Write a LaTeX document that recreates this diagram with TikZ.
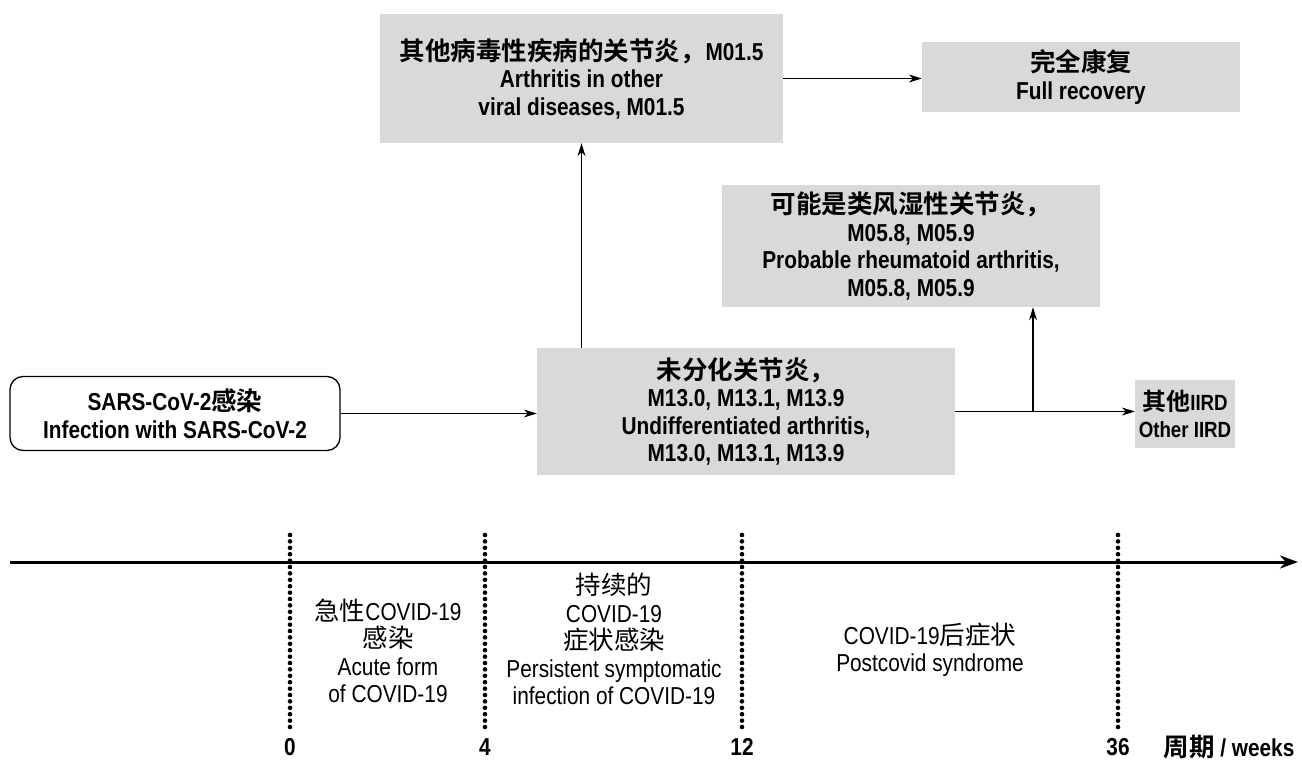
\documentclass[tikz,border=0pt]{standalone}
\usepackage{fontspec}
\setmainfont{Liberation Sans}[FakeStretch=0.85]
\newfontfamily\cjk{Noto Sans CJK SC}[BoldFont={* Bold}]
\newcommand{\zhtxt}[1]{{\fontsize{25.5}{28}\selectfont\cjk #1}}
\usetikzlibrary{arrows.meta}
\definecolor{boxgray}{HTML}{D9D9D9}
\begin{document}
\begin{tikzpicture}[x=1pt,y=-1pt,
  gbox/.style={fill=boxgray, align=center, inner sep=0pt, font=\bfseries\fontsize{24.5}{27.5}\selectfont},
  rbox/.style={draw=black, line width=1.3pt, rounded corners=13pt, align=center, inner sep=0pt, font=\bfseries\fontsize{24.5}{28}\selectfont},
  conn/.style={line width=1.3pt, -{Stealth[length=13pt,width=8pt]}},
  axis/.style={line width=3pt, -{Stealth[length=18pt,width=13pt]}},
  dots/.style={line width=4.6pt, line cap=round, dash pattern=on 0pt off 6.4pt},
  wk/.style={font=\bfseries\fontsize{24.5}{28}\selectfont},
  per/.style={align=center, font=\fontsize{24.5}{27.5}\selectfont}]
\useasboundingbox (0,0) rectangle (1302,762);

% boxes
\node[rbox, minimum width=330pt, minimum height=74pt] (sars) at (175,413.5)
  {SARS-CoV-2\zhtxt{感染}\\Infection with SARS-CoV-2};
\node[gbox, minimum width=418pt, minimum height=127pt] (ua) at (746,411.5)
  {\zhtxt{未分化关节炎，}\\M13.0, M13.1, M13.9\\Undifferentiated arthritis,\\M13.0, M13.1, M13.9};
\node[gbox, minimum width=403pt, minimum height=129pt] (ao) at (581.5,78.5)
  {\zhtxt{其他病毒性疾病的关节炎，}M01.5\\Arthritis in other\\viral diseases, M01.5};
\node[gbox, minimum width=318pt, minimum height=70pt] (fr) at (1081,77)
  {\zhtxt{完全康复}\\Full recovery};
\node[gbox, minimum width=378pt, minimum height=122pt] (pra) at (911,246)
  {\zhtxt{可能是类风湿性关节炎，}\\M05.8, M05.9\\Probable rheumatoid arthritis,\\M05.8, M05.9};
\node[gbox, minimum width=100pt, minimum height=68pt, font=\bfseries\fontsize{22}{27}\selectfont] (iird) at (1185,414)
  {{\fontsize{24}{27}\selectfont\cjk 其他}IIRD\\Other IIRD};

% connectors
\draw[conn] (sars.east) -- (sars.east -| ua.west);
\draw[conn] (ua.north -| ao.south) -- (ao.south);
\draw[conn] (ao.east) -- (fr.west |- ao.east);
\draw[conn] (ua.east) -- (iird.west |- ua.east);
\coordinate (br) at (1033,411.5);
\draw[conn] (br) -- (br |- pra.south);

% timeline
\coordinate (ta) at (10,562);
\coordinate (tb) at (1298,562);
\draw[axis] (ta) -- (tb);

\foreach \nm/\xx/\lab in {w0/290/0, w4/485/4, w12/742/12, w36/1118/36}{
  \coordinate (\nm top) at (\xx,535);
  \coordinate (\nm bot) at (\xx,729);
  \draw[dots] (\nm top) -- (\nm bot);
  \node[wk] (\nm lab) at (\xx,747) {\lab};
}
\node[wk, anchor=west] (weeks) at (1160,747) {\zhtxt{周期} / weeks};

\node[per] (p1) at (388,651) {\zhtxt{急性}COVID-19\\\zhtxt{感染}\\Acute form\\of COVID-19};
\node[per] (p2) at (614,639) {\zhtxt{持续的}\\COVID-19\\\zhtxt{症状感染}\\Persistent symptomatic\\infection of COVID-19};
\node[per] (p3) at (930,650) {COVID-19\zhtxt{后症状}\\Postcovid syndrome};
\end{tikzpicture}
\end{document}
